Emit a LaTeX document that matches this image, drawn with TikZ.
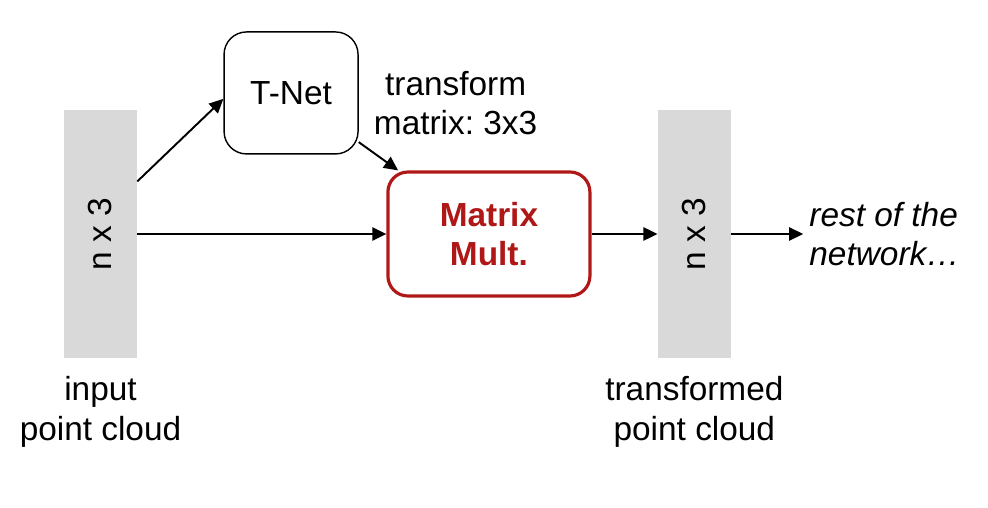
\documentclass[tikz,border=0pt]{standalone}
\usepackage{fontspec}
\setmainfont{Liberation Sans}
\usepackage{tikz}
\usetikzlibrary{arrows.meta}
\usetikzlibrary{positioning}
\definecolor{mmred}{RGB}{176,24,24}
\definecolor{bargray}{RGB}{217,217,217}
\tikzset{
  myarrow/.style={
    line width=1.1pt,
    -{Triangle[length=8pt,width=7.5pt]}
  },
  cloudbar/.style={
    fill=bargray,
    minimum width=1.46cm,
    minimum height=4.96cm
  }
}
\frenchspacing

\begin{document}
\begin{tikzpicture}[font=\fontsize{19}{22.5}\selectfont]
\useasboundingbox (0,0) rectangle (19.76,-10.16);

% Input point cloud
\node [cloudbar] (inpc) at (2.01,-4.68) {\rotatebox{90}{n x 3}};

% T-Net
\node [draw,
    line width=0.8pt,
    rounded corners=0.45cm,
    minimum width=2.68cm,
    minimum height=2.44cm,
    above right=-0.9cm and 1.72cm of inpc
]  (tnet) {T-Net};

% Matrix multiplication
\node [draw=mmred,
    line width=1.8pt,
    rounded corners=0.4cm,
    text=mmred,
    font=\fontsize{19}{22.5}\selectfont\bfseries,
    align=center,
    minimum width=4.04cm,
    minimum height=2.48cm,
    right=4.98cm of inpc
]  (mm) {Matrix\\Mult.};

% Transformed point cloud
\node [cloudbar, right=1.32cm of mm] (outpc) {\rotatebox{90}{n x 3}};

% Labels
\node [align=center, right=0.18cm of tnet, yshift=-0.2cm] (tmat) {transform\\matrix: 3x3};
\node [align=center, below=0.24cm of inpc] (inlbl) {input\\point cloud};
\node [align=center, below=0.24cm of outpc] (outlbl) {transformed\\point cloud};
\node [align=left,
    font=\fontsize{19}{22.5}\selectfont\itshape,
    right=1.44cm of outpc
]  (rest) {rest of the\\network…};

\draw[myarrow] (inpc.55) -- (tnet.185);
\draw[myarrow] (tnet.-36) -- (mm.145);
\draw[myarrow] (inpc.east) -- (mm.west);
\draw[myarrow] (mm.east) -- (outpc.west);
\draw[myarrow] (outpc.east) -- (rest.west);

\end{tikzpicture}
\end{document}
